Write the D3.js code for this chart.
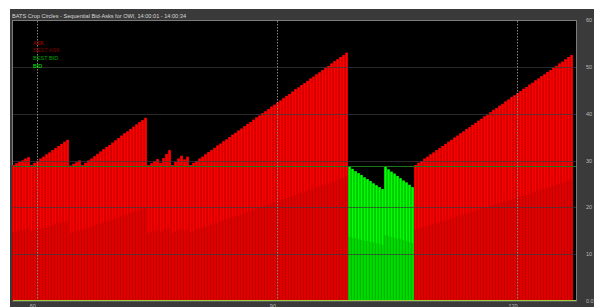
<!DOCTYPE html>
<html><head><meta charset="utf-8">
<script src="https://cdn.jsdelivr.net/npm/d3@7"></script>
<style>body{margin:0;background:#fff}svg{display:block}text{font-family:"Liberation Sans",Arial,sans-serif}</style>
</head><body><svg id="c" width="594" height="307"></svg>
<script>
const title = "BATS Crop Circles - Sequential Bid-Asks for OWI, 14:00:01 - 14:00:34";
const legendLabels = ["ASK", "BEST ASK", "BEST BID", "BID"];
const yTicks = [0, 10, 20, 30, 40, 50, 60];
const yTickLabels = ["0.0", "10", "20", "30", "40", "50", "60"];
const xTicks = [60, 90, 120];
const xDomain = [56.9, 127.0];
const bestBidLevel = 28.9;
// side of each run of quotes (ask / bid) and its length
const sideRuns = [["ask", 112], ["bid", 22], ["ask", 53]];
// top of each bar (quote price)
const quoteTop = [
 29.0,29.4,29.7,30.0,30.4,30.7,
 29.0,29.5,29.9,30.4,30.8,31.3,31.7,32.2,32.6,33.1,33.5,34.0,34.4,
 28.9,29.3,29.6,30.0,
 29.0,29.5,30.0,30.4,30.9,31.4,31.9,32.4,32.9,33.3,33.8,34.3,34.8,35.3,35.8,36.2,36.7,37.2,37.7,38.2,38.6,39.1,
 29.0,29.4,29.9,30.3,29.5,30.5,31.4,32.2,
 29.0,29.7,30.4,31.0,30.2,30.8,
 29.0,29.5,29.9,30.4,30.8,31.3,31.8,32.2,32.7,33.2,33.6,34.1,34.5,35.0,35.5,35.9,36.4,36.8,37.3,37.8,38.2,38.7,39.2,39.6,40.1,40.5,41.0,41.5,41.9,42.4,42.8,43.3,43.8,44.2,44.7,45.2,45.6,46.1,46.5,47.0,47.5,47.9,48.4,48.8,49.3,49.8,50.2,50.7,51.2,51.6,52.1,52.5,53.0,
 28.6,28.2,27.7,27.3,26.9,26.4,26.0,25.6,25.1,24.7,24.3,23.9,
 28.6,28.1,27.6,27.2,26.7,26.2,25.7,25.3,24.8,24.3,
 29.0,29.5,29.9,30.4,30.8,31.3,31.7,32.2,32.6,33.1,33.5,34.0,34.4,34.9,35.3,35.8,36.2,36.7,37.1,37.6,38.0,38.5,38.9,39.4,39.8,40.3,40.8,41.2,41.7,42.1,42.6,43.0,43.5,43.9,44.4,44.8,45.3,45.7,46.2,46.6,47.1,47.5,48.0,48.4,48.9,49.3,49.8,50.2,50.7,51.1,51.6,52.1,52.5
];
// lower (best) level of each bar
const quoteBest = [
 14.7,14.9,15.1,15.2,15.4,15.6,
 14.9,15.1,15.3,15.5,15.6,15.8,16.0,16.2,16.4,16.6,16.7,16.9,17.1,
 14.5,14.7,14.9,15.1,
 15.2,15.4,15.6,15.9,16.1,16.3,16.5,16.8,17.0,17.2,17.4,17.6,17.9,18.1,18.3,18.5,18.8,19.0,19.2,19.4,19.7,19.9,
 14.5,14.7,14.9,15.1,14.8,15.1,15.4,15.6,
 14.5,14.8,15.1,15.4,15.0,15.3,
 14.7,14.9,15.2,15.4,15.6,15.8,16.1,16.3,16.5,16.7,17.0,17.2,17.4,17.7,17.9,18.1,18.3,18.6,18.8,19.0,19.2,19.5,19.7,19.9,20.1,20.4,20.6,20.8,21.1,21.3,21.5,21.7,22.0,22.2,22.4,22.6,22.9,23.1,23.3,23.6,23.8,24.0,24.2,24.5,24.7,24.9,25.1,25.4,25.6,25.8,26.0,26.3,26.5,
 13.7,13.5,13.4,13.2,13.1,12.9,12.8,12.6,12.5,12.3,12.2,12.0,
 14.1,13.9,13.7,13.5,13.3,13.2,13.0,12.8,12.6,12.4,
 15.2,15.4,15.6,15.8,16.0,16.2,16.4,16.6,16.8,17.0,17.2,17.4,17.6,17.9,18.1,18.3,18.5,18.7,18.9,19.1,19.3,19.5,19.7,19.9,20.1,20.3,20.5,20.7,20.9,21.1,21.3,21.5,21.7,21.9,22.1,22.3,22.5,22.7,22.9,23.2,23.4,23.6,23.8,24.0,24.2,24.4,24.6,24.8,25.0,25.2,25.4,25.6,25.8
];

const sides = sideRuns.flatMap(([s, n]) => Array(n).fill(s));
const data = quoteTop.map((v, i) => ({i, top: v, best: quoteBest[i], side: sides[i]}));

const svg = d3.select("#c");
const P = {l: 12, t: 20, r: 577, b: 301};
svg.append("rect").attr("x", 10).attr("y", 9).attr("width", 584).attr("height", 298).attr("fill", "#3a3a3a");
svg.append("text").attr("x", 12).attr("y", 17.5).attr("fill", "#d8d8d8").attr("font-size", 5.6).text(title);
svg.append("rect").attr("x", P.l + 0.5).attr("y", P.t + 0.5).attr("width", P.r - P.l - 1).attr("height", P.b - P.t - 0.5)
  .attr("fill", "#000").attr("stroke", "#7c7c7c");

const y = d3.scaleLinear().domain([0, 60]).range([301, 20]);
const xb = d3.scaleBand().domain(data.map(d => d.i)).range([12, 573]).padding(0);
const xt = d3.scaleLinear().domain(xDomain).range([12, 573]);
const bw = xb.bandwidth();

const col = {ask: ["#b80000", "#ff0000", "#c20000"], bid: ["#00a800", "#00ff00", "#00b800"]};
const g = svg.append("g");
g.selectAll("rect.o").data(data).join("rect")
  .attr("x", d => xb(d.i)).attr("width", bw).attr("y", d => y(d.top)).attr("height", d => y(0) - y(d.top))
  .attr("fill", d => col[d.side][0]);
g.selectAll("rect.in").data(data).join("rect")
  .attr("x", d => xb(d.i) + 0.6).attr("width", bw - 1.1).attr("y", d => y(d.top)).attr("height", d => y(0) - y(d.top))
  .attr("fill", d => col[d.side][1]);
g.selectAll("rect.lo").data(data).join("rect")
  .attr("x", d => xb(d.i)).attr("width", bw * 0.5).attr("y", d => y(d.best)).attr("height", d => y(0) - y(d.best))
  .attr("fill", d => col[d.side][2]);

// horizontal gridlines
svg.selectAll("line.h").data(yTicks.filter(t => t > 0 && t < 60)).join("line")
  .attr("x1", 13).attr("x2", 576).attr("y1", d => Math.round(y(d)) + 0.5).attr("y2", d => Math.round(y(d)) + 0.5)
  .attr("stroke", "#3a3a3a").attr("stroke-opacity", 0.7);
// best bid level line
svg.append("line").attr("x1", 13).attr("x2", 576).attr("y1", Math.round(y(bestBidLevel)) + 0.5).attr("y2", Math.round(y(bestBidLevel)) + 0.5)
  .attr("stroke", "#1a781a");
// vertical dashed gridlines
svg.selectAll("line.v").data(xTicks).join("line")
  .attr("x1", d => Math.round(xt(d)) + 0.5).attr("x2", d => Math.round(xt(d)) + 0.5).attr("y1", 21).attr("y2", 300)
  .attr("stroke", "#858585").attr("stroke-dasharray", "1.5,1.5");
// baseline
svg.append("line").attr("x1", 13).attr("x2", 576).attr("y1", 300.5).attr("y2", 300.5).attr("stroke", "#9ccc3c");

// right axis labels
svg.selectAll("text.yl").data(yTicks).join("text")
  .attr("x", 586).attr("y", d => y(d) + 2).attr("fill", "#bdbdbd").attr("font-size", 5.5)
  .text((d, i) => yTickLabels[i]);
// bottom labels
svg.selectAll("text.xl").data(xTicks).join("text")
  .attr("x", d => xt(d) - 4).attr("y", 307.5).attr("text-anchor", "middle").attr("fill", "#bdbdbd").attr("font-size", 5.5)
  .text(d => d);

// legend
const legCol = ["#b00000", "#800000", "#00a000", "#00ee00"];
svg.selectAll("text.lg").data(legendLabels).join("text")
  .attr("x", 33).attr("y", (d, i) => 44.7 + i * 7.7).attr("fill", (d, i) => legCol[i]).attr("font-size", 5.6)
  .text(d => d);
</script></body></html>
